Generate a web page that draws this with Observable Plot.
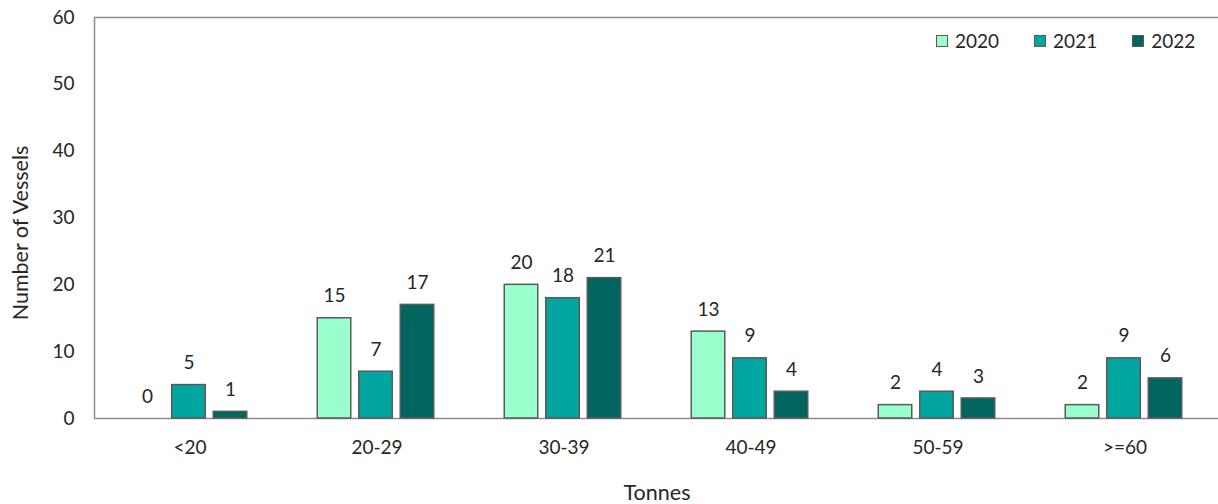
<!DOCTYPE html>
<html>
<head>
<meta charset="utf-8">
<script src="https://cdn.jsdelivr.net/npm/d3@7"></script>
<script src="https://cdn.jsdelivr.net/npm/@observablehq/plot@0.6"></script>
<style>
  body { margin: 0; background: #fff; }
  #chart { position: relative; width: 1218px; height: 504px; font-family: Lato, "Open Sans", sans-serif; color: #262626; }
  .legend { position: absolute; top: 30px; left: 936px; display: flex; font-size: 19px; line-height: 22px; }
  .legend .item { display: flex; align-items: center; margin-right: 35px; }
  .legend .sw { width: 10px; height: 10px; border: 1.5px solid #5a5a5a; margin-right: 7px; }
</style>
</head>
<body>
<div id="chart"></div>
<script>
// Vessel counts by tonnage class and year
const categories = ["<20", "20-29", "30-39", "40-49", "50-59", ">=60"];
const years = ["2020", "2021", "2022"];
const v2020 = [0, 15, 20, 13, 2, 2];
const v2021 = [5, 7, 18, 9, 4, 9];
const v2022 = [1, 17, 21, 4, 3, 6];
const yTicks = [0, 10, 20, 30, 40, 50, 60];
const colors = ["#99ffcc", "#00a69f", "#00665f"];

const series = [v2020, v2021, v2022];
const barWidth = 34;
const pitch = 41.5;
const bandwidth = (1219 - 94) / categories.length;
const inset = (bandwidth - barWidth) / 2;

const marks = [Plot.frame({stroke: "#8c8c8c", strokeWidth: 1.5})];
years.forEach((yr, j) => {
  const rows = categories.map((c, i) => ({cat: c, value: series[j][i]}));
  const dx = (j - 1) * pitch - 1;
  marks.push(
    Plot.barY(rows.filter(d => d.value > 0), {
      x: "cat", y: "value", fill: colors[j], stroke: "#5a5a5a", strokeWidth: 1.5,
      insetLeft: inset, insetRight: inset, dx
    }),
    Plot.text(rows, {
      x: "cat", y: "value", text: d => String(d.value), dx, dy: -22,
      fontSize: 19, fill: "#262626"
    })
  );
});

const plot = Plot.plot({
  width: 1218,
  height: 504,
  marginLeft: 94,
  marginRight: -1,
  marginTop: 17,
  marginBottom: 86,
  style: {fontFamily: "Lato, 'Open Sans', sans-serif", fontSize: "19px", color: "#262626", background: "#fff"},
  x: {domain: categories, padding: 0, tickSize: 0, tickPadding: 22, label: "Tonnes", labelAnchor: "center", labelOffset: 81, labelArrow: "none"},
  y: {domain: [0, 60], ticks: yTicks, tickSize: 0, tickPadding: 20, label: "Number of Vessels", labelAnchor: "center", labelOffset: 82, labelArrow: "none"},
  marks
});

// Axis titles are set a little larger than the tick labels; the vertical one sits slightly low
d3.select(plot).selectAll('g[aria-label$="axis label"] text').style("font-size", "21.5px");
d3.select(plot).selectAll('g[aria-label="y-axis label"] text').attr("dx", -15);

const chart = document.getElementById("chart");
chart.appendChild(plot);

const legend = document.createElement("div");
legend.className = "legend";
years.forEach((yr, j) => {
  const item = document.createElement("div");
  item.className = "item";
  const sw = document.createElement("span");
  sw.className = "sw";
  sw.style.background = colors[j];
  const lab = document.createElement("span");
  lab.textContent = yr;
  item.append(sw, lab);
  legend.appendChild(item);
});
chart.appendChild(legend);
</script>
</body>
</html>
